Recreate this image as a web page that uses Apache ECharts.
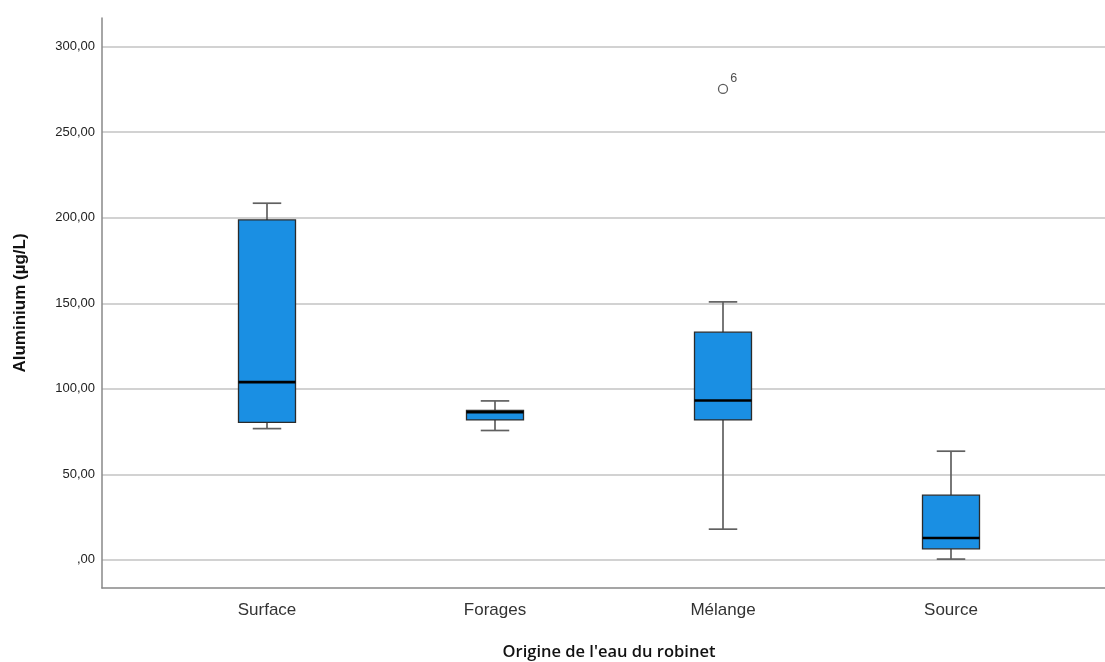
<!DOCTYPE html>
<html>
<head>
<meta charset="utf-8">
<script src="https://cdn.jsdelivr.net/npm/echarts@6/dist/echarts.min.js"></script>
<style>
  html, body { margin: 0; padding: 0; background: #fff; }
  #chart { width: 1105px; height: 662px; }
</style>
</head>
<body>
<div id="chart"></div>
<script>
// Aluminium concentration by tap-water origin (box plot summary)
const categories = ['Surface', 'Forages', 'Mélange', 'Source'];
const whiskerLow  = [76.7, 75.6, 17.9, 0.4];
const q1          = [80.3, 81.8, 81.8, 6.4];
const median      = [103.9, 86.3, 93.1, 12.7];
const q3          = [198.7, 87.3, 133.1, 37.8];
const whiskerHigh = [208.5, 92.9, 150.8, 63.5];
// outliers: [category, value, case label]
const outliers = [['Mélange', 275.3, '6']];

const Y_MIN = -16.5;
const Y_MAX = 316.8;

const boxData = categories.map((c, i) => [i, whiskerLow[i], q1[i], median[i], q3[i], whiskerHigh[i]]);

function fmt(v) {
  if (Math.abs(v % 50) > 1e-6) return '';
  let s = v.toFixed(2).replace('.', ',');
  if (s.startsWith('0,')) s = s.slice(1);
  return s;
}

function renderBox(params, api) {
  const idx = api.value(0);
  const bw = api.size([1, 0])[0] * 0.25;
  const cw = bw * 0.5;
  const pLow = api.coord([idx, api.value(1)]);
  const pQ1 = api.coord([idx, api.value(2)]);
  const pMed = api.coord([idx, api.value(3)]);
  const pQ3 = api.coord([idx, api.value(4)]);
  const pHigh = api.coord([idx, api.value(5)]);
  const cx = pQ1[0];
  const whisk = { stroke: '#606060', lineWidth: 1.7 };
  return {
    type: 'group',
    children: [
      { type: 'line', shape: { x1: cx, y1: pHigh[1], x2: cx, y2: pQ3[1] }, style: whisk },
      { type: 'line', shape: { x1: cx, y1: pQ1[1], x2: cx, y2: pLow[1] }, style: whisk },
      { type: 'line', shape: { x1: cx - cw / 2, y1: pHigh[1], x2: cx + cw / 2, y2: pHigh[1] }, style: whisk },
      { type: 'line', shape: { x1: cx - cw / 2, y1: pLow[1], x2: cx + cw / 2, y2: pLow[1] }, style: whisk },
      { type: 'rect', shape: { x: cx - bw / 2, y: pQ3[1], width: bw, height: pQ1[1] - pQ3[1] },
        style: { fill: '#1a8fe3', stroke: '#2b2b2b', lineWidth: 1.3 } },
      { type: 'line', shape: { x1: cx - bw / 2, y1: pMed[1], x2: cx + bw / 2, y2: pMed[1] },
        style: { stroke: '#000', lineWidth: 2.6 } }
    ]
  };
}

const chart = echarts.init(document.getElementById('chart'), null, { renderer: 'canvas' });
chart.setOption({
  animation: false,
  backgroundColor: '#fff',
  grid: [
    { left: 102, right: 0, top: 18, bottom: 74, outerBoundsMode: 'none', containLabel: false },
    { left: 153, right: 40, top: 18, bottom: 74, outerBoundsMode: 'none', containLabel: false }
  ],
  xAxis: [
    {
      gridIndex: 0, type: 'value', min: 0, max: 1, position: 'bottom',
      axisLine: { show: true, onZero: false, lineStyle: { color: '#888', width: 1.5 } },
      axisTick: { show: false }, axisLabel: { show: false }, splitLine: { show: false }
    },
    {
      gridIndex: 1, type: 'category', data: categories, position: 'bottom',
      axisLine: { show: false, onZero: false }, axisTick: { show: false },
      axisLabel: { margin: 14, fontSize: 17, color: '#333', fontFamily: 'Liberation Sans' },
      name: "Origine de l'eau du robinet", nameLocation: 'middle', nameGap: 56,
      nameTextStyle: { fontSize: 16.5, fontWeight: 600, color: '#111', fontFamily: 'Open Sans' }
    }
  ],
  yAxis: [
    {
      gridIndex: 0, type: 'value', min: Y_MIN, max: Y_MAX, splitNumber: 6,
      axisLine: { show: true, lineStyle: { color: '#888', width: 1.5 } },
      axisTick: { show: false },
      axisLabel: { formatter: fmt, fontSize: 13, color: '#222', margin: 7,
        fontFamily: 'Liberation Sans', showMinLabel: false, showMaxLabel: false },
      splitLine: { show: true, showMinLine: false, showMaxLine: false,
        lineStyle: { color: '#d2d2d2', width: 1.8 } },
      name: 'Aluminium (µg/L)', nameLocation: 'middle', nameGap: 73, nameRotate: 90,
      nameTextStyle: { fontSize: 17, fontWeight: 'bold', color: '#111', fontFamily: 'Liberation Sans' }
    },
    {
      gridIndex: 1, type: 'value', min: Y_MIN, max: Y_MAX, show: false, splitLine: { show: false }
    }
  ],
  series: [
    {
      type: 'custom', xAxisIndex: 1, yAxisIndex: 1,
      renderItem: renderBox,
      encode: { x: 0, y: [1, 2, 3, 4, 5] },
      data: boxData, z: 5
    },
    {
      type: 'scatter', xAxisIndex: 1, yAxisIndex: 1,
      symbol: 'circle', symbolSize: 9,
      itemStyle: { color: '#fff', borderColor: '#333', borderWidth: 1.3 },
      label: { show: true, formatter: p => p.data[2], position: 'right', distance: 2,
        offset: [0, -10], fontSize: 12.5, color: '#222', fontFamily: 'Liberation Sans' },
      data: outliers, z: 6
    }
  ]
});
</script>
</body>
</html>
